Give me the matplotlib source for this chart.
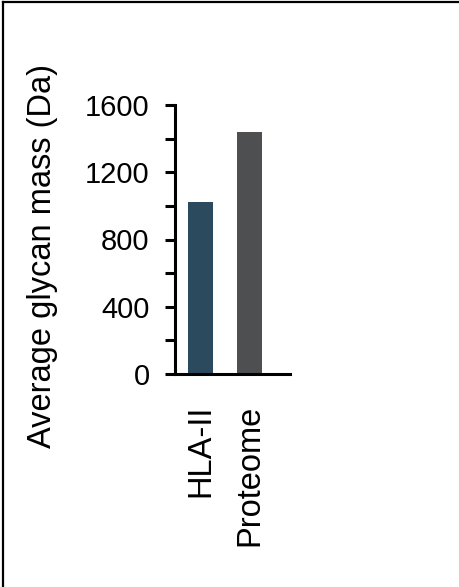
import matplotlib.pyplot as plt
from matplotlib.lines import Line2D

plt.rcParams['font.family'] = ['Liberation Sans', 'DejaVu Sans']

# data
categories = ['HLA-II', 'Proteome']
mass = [1025, 1437]
colors = ['#2c4a5e', '#4d4f51']
yticks_major = [0, 400, 800, 1200, 1600]
yticks_minor = [200, 600, 1000, 1400]

fig = plt.figure(figsize=(4.59, 5.87), dpi=100)
ax = fig.add_axes([175 / 459, 1 - 374 / 587, 115 / 459, 269 / 587])

ax.bar(range(len(categories)), mass, width=0.52, color=colors)

ax.set_xlim(-0.52, 1.83)
ax.set_ylim(0, 1600)
ax.set_yticks(yticks_major)
ax.set_yticks(yticks_minor, minor=True)
ax.set_xticks(range(len(categories)))
ax.set_xticklabels(categories, rotation=90, fontsize=23.5)

for s in ['top', 'right']:
    ax.spines[s].set_visible(False)
for s in ['left', 'bottom']:
    ax.spines[s].set_linewidth(2.2)

ax.tick_params(axis='y', which='both', length=7.2, width=2.2, labelsize=21, pad=11)
ax.tick_params(axis='x', length=0, pad=22)

fig.text(43 / 459, 1 - 256 / 587, 'Average glycan mass (Da)', rotation=90,
         fontsize=23.5, ha='center', va='center')

# frame lines (top and left) around the panel
fig.add_artist(Line2D([2.5 / 459, 2.5 / 459], [0, 1 - 1.5 / 587], color='black', lw=1.6))
fig.add_artist(Line2D([2.5 / 459, 1], [1 - 1.5 / 587, 1 - 1.5 / 587], color='black', lw=1.6))

fig.savefig('out.png', dpi=100)
